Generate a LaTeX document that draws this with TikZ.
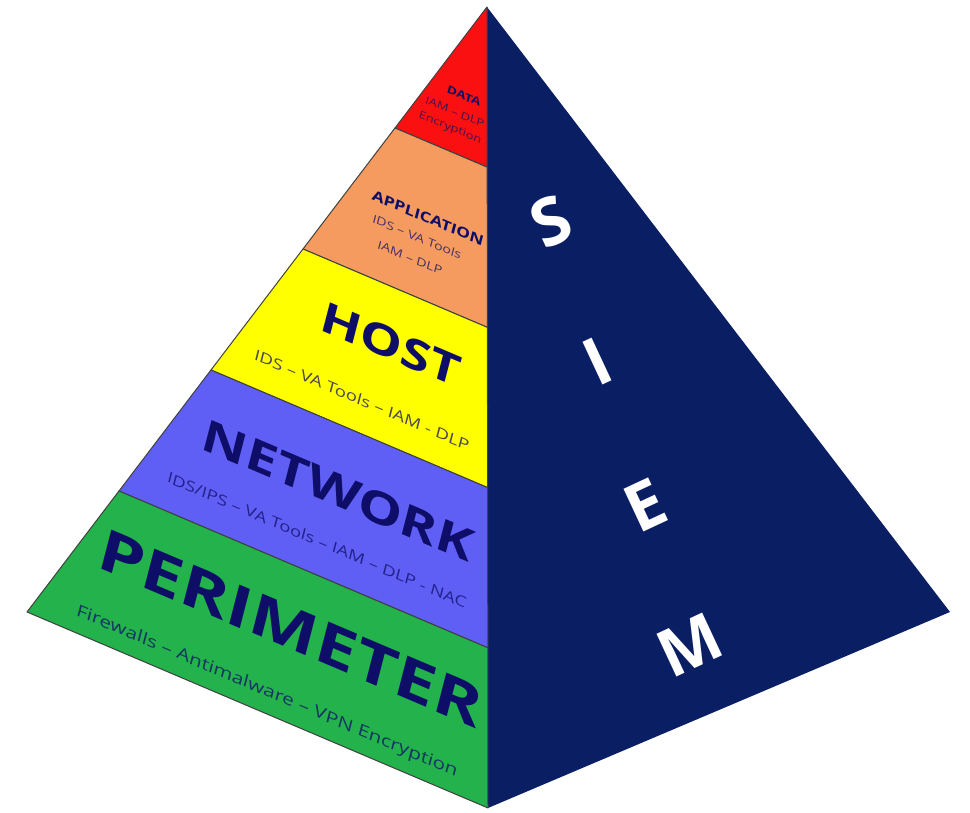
\documentclass[tikz,border=0pt]{standalone}
\usepackage{fontspec}
\setmainfont{Open Sans}
\usetikzlibrary{calc}
\definecolor{navyface}{RGB}{10,31,99}
\definecolor{bred}{RGB}{250,16,16}
\definecolor{borange}{RGB}{245,155,95}
\definecolor{byellow}{RGB}{255,255,0}
\definecolor{bblue}{RGB}{95,95,245}
\definecolor{bgreen}{RGB}{35,178,75}
\definecolor{ink}{RGB}{14,14,105}
\begin{document}
\begin{tikzpicture}[x=1pt,y=1pt,
  band/.style={draw=black!75, line width=1pt, line join=round},
  lefttxt/.style={rotate=-23, xslant=-0.15, xscale=1.35, inner sep=0pt, text=ink},
  head/.style={lefttxt, font=\bfseries\fontsize{#1}{#1}\selectfont},
  sub/.style={lefttxt, text opacity=0.75, font=\fontsize{#1}{#1}\selectfont},
  siem/.style={rotate=25, inner sep=0pt, text=white, font=\bfseries\fontsize{66}{66}\selectfont}]
\useasboundingbox (0,0) rectangle (970,813);
\coordinate (A) at (487,806);
\coordinate (L) at (27,201);
\coordinate (F) at (488,5);
\coordinate (R) at (950,201);
\foreach \i/\t in {1/0.2,2/0.4,3/0.6,4/0.8}{
  \coordinate (p\i) at ($(A)!\t!(L)$);
  \coordinate (q\i) at ($(A)!\t!(F)$);
}
% right face
\fill[navyface] (A) -- (F) -- (R) -- cycle;
% left face bands
\filldraw[band, fill=bred] (A) -- (p1) -- (q1) -- cycle;
\filldraw[band, fill=borange] (p1) -- (p2) -- (q2) -- (q1) -- cycle;
\filldraw[band, fill=byellow] (p2) -- (p3) -- (q3) -- (q2) -- cycle;
\filldraw[band, fill=bblue] (p3) -- (p4) -- (q4) -- (q3) -- cycle;
\filldraw[band, fill=bgreen] (p4) -- (L) -- (F) -- (q4) -- cycle;
% texts on left face
\begin{scope}
\clip (A) -- (L) -- (F) -- cycle;
\node[head=10.5] (data) at (464,717) {DATA};
\node[sub=10] (data1) at (455,701) {IAM – DLP};
\node[sub=10] (data2) at (450,685) {Encryption};
\node[head=13.5] (app) at (428,595) {APPLICATION};
\node[sub=11] (app1) at (417,576) {IDS – VA Tools};
\node[sub=11] (app2) at (410,555) {IAM – DLP};
\node[head=41] (host) at (391,469) {HOST};
\node[sub=14.4] (host1) at (362,413) {IDS – VA Tools – IAM - DLP};
\node[head=43] (net) at (338,323) {NETWORK};
\node[sub=14.3] (net1) at (317,273) {IDS/IPS – VA Tools – IAM – DLP - NAC};
\node[head=56] (per) at (291,185) {PERIMETER};
\node[sub=16] (per1) at (267,121) {Firewalls – Antimalware – VPN Encryption};
\end{scope}
% SIEM
\node[siem] (s) at (551,592) {S};
\node[siem] (i) at (597,451) {I};
\node[siem] (e) at (645,308) {E};
\node[siem] (m) at (690,168) {M};
\end{tikzpicture}
\end{document}
